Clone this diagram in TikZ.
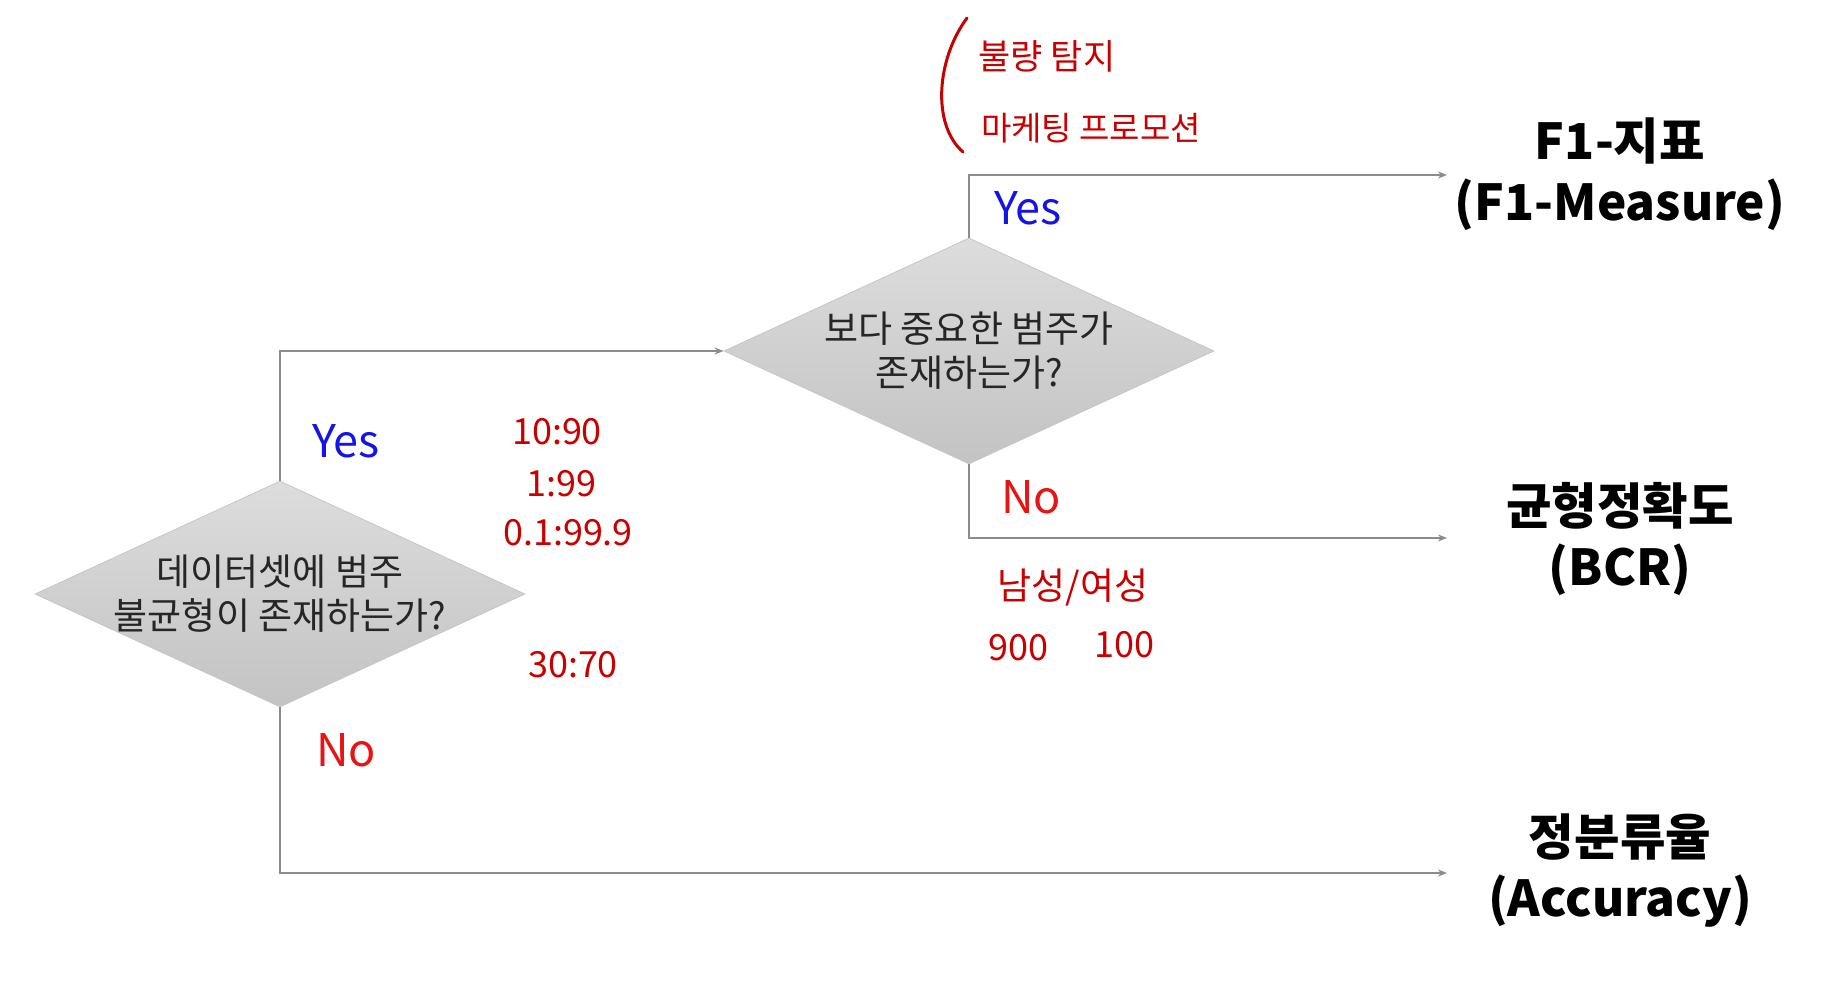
\documentclass[tikz,border=0pt]{standalone}
\usepackage{fontspec}
\setmainfont{Noto Sans CJK KR}
\usetikzlibrary{shapes.geometric,arrows.meta}
\definecolor{linegray}{RGB}{140,140,140}
\definecolor{yesblue}{RGB}{20,20,230}
\definecolor{nored}{RGB}{230,20,20}
\definecolor{handred}{RGB}{200,0,0}
\tikzset{
  decision/.style={diamond, minimum width=490pt, minimum height=226pt, inner sep=0pt,
    draw=gray!45, line width=0.8pt, top color=gray!27, bottom color=gray!47},
  dtext/.style={align=center, font=\fontsize{37}{44}\selectfont, text=black!85},
  conn/.style={draw=linegray, line width=1.4pt, -{Stealth[length=9pt,width=7pt]}},
  outc/.style={align=center, font=\fontsize{49.5}{61}\selectfont\bfseries},
  yeslbl/.style={font=\fontsize{45}{50}\selectfont, text=yesblue},
  nolbl/.style={font=\fontsize{45}{50}\selectfont, text=nored},
  hand/.style={font=\fontsize{35}{40}\selectfont, text=handred},
  handnum/.style={font=\fontsize{36}{40}\selectfont, text=handred},
}
\begin{document}
\begin{tikzpicture}[x=1pt,y=-1pt]
\useasboundingbox (0,0) rectangle (1847,1000);
\node[decision] (d1) at (280,594) {};
\node[dtext] (t1) at (d1.center) {데이터셋에 범주\\불균형이 존재하는가?};
\node[decision] (d2) at (969,351) {};
\node[dtext] (t2) at (d2.center) {보다 중요한 범주가\\존재하는가?};

\node[outc] (o1) at (1620,174) {F1-지표\\(F1-Measure)};
\node[outc] (o2) at (1620,539) {균형정확도\\(BCR)};
\node[outc] (o3) at (1620,871) {정분류율\\(Accuracy)};

\coordinate (e1) at (1447,175);
\coordinate (e2) at (1447,538);
\coordinate (e3) at (1447,873);

\draw[conn] (d1.north) |- (d2.west);
\draw[conn] (d2.north) |- (e1);
\draw[conn] (d2.south) |- (e2);
\draw[conn] (d1.south) |- (e3);

\node[yeslbl] (y1) at (346,441) {Yes};
\node[nolbl] (n1) at (346,750) {No};
\node[yeslbl] (y2) at (1028,208) {Yes};
\node[nolbl] (n2) at (1031,497) {No};

% handwritten annotations
\draw[handred, line width=3pt, line cap=round] (967,18) .. controls (936,60) and (932,125) .. (963,152);
\node[hand] (h1) at (1047,56) {불량 탐지};
\node[hand, font=\fontsize{33}{40}\selectfont] (h2) at (1091,128) {마케팅 프로모션};
\node[handnum] (h3) at (557,432) {10:90};
\node[handnum] (h4) at (561,484) {1:99};
\node[handnum] (h5) at (568,533) {0.1:99.9};
\node[handnum] (h6) at (573,665) {30:70};
\node[hand, font=\fontsize{37}{40}\selectfont] (h7) at (1073,588) {남성/여성};
\node[handnum] (h8) at (1018,648) {900};
\node[handnum] (h9) at (1124,645) {100};
\end{tikzpicture}
\end{document}
